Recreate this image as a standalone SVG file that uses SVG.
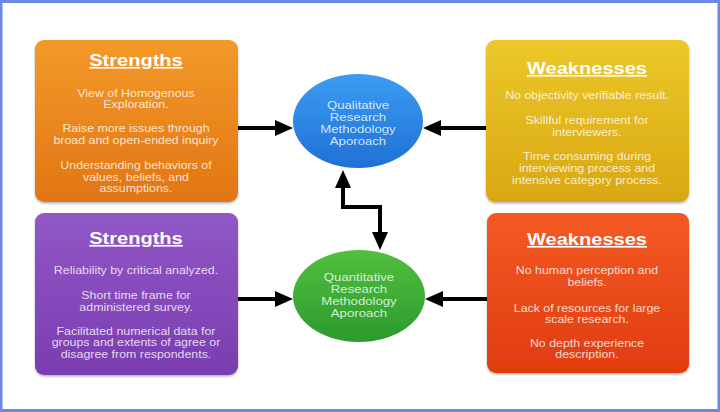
<svg xmlns="http://www.w3.org/2000/svg" width="720" height="412" viewBox="0 0 720 412">
<defs>
<linearGradient id="gOr" x1="0" y1="0" x2="0" y2="1"><stop offset="0" stop-color="#f39a2a"/><stop offset="1" stop-color="#e27514"/></linearGradient>
<linearGradient id="gYe" x1="0" y1="0" x2="0" y2="1"><stop offset="0" stop-color="#ecc82a"/><stop offset="1" stop-color="#d9a712"/></linearGradient>
<linearGradient id="gPu" x1="0" y1="0" x2="0" y2="1"><stop offset="0" stop-color="#9257c6"/><stop offset="1" stop-color="#7a3db0"/></linearGradient>
<linearGradient id="gRe" x1="0" y1="0" x2="0" y2="1"><stop offset="0" stop-color="#f45a24"/><stop offset="1" stop-color="#e03c10"/></linearGradient>
<linearGradient id="gBl" x1="0" y1="0" x2="0" y2="1"><stop offset="0" stop-color="#3c9cf2"/><stop offset="1" stop-color="#1f70d6"/></linearGradient>
<linearGradient id="gGr" x1="0" y1="0" x2="0" y2="1"><stop offset="0" stop-color="#52bf3e"/><stop offset="1" stop-color="#2c9a2e"/></linearGradient>
<filter id="sh" x="-5%" y="-5%" width="110%" height="115%">
<feDropShadow dx="0" dy="1.5" stdDeviation="1.2" flood-color="#000" flood-opacity="0.3"/>
</filter>
<marker id="ah" markerUnits="userSpaceOnUse" markerWidth="18" markerHeight="16" refX="0" refY="8" orient="auto-start-reverse" viewBox="0 0 18 16">
<path d="M0,0 L18,8 L0,16 z" fill="#000"/>
</marker>
</defs>
<style>
.box{stroke:none;filter:url(#sh)}
.ttl{font-family:"Liberation Sans",Arial,sans-serif;font-weight:bold;font-size:17px;fill:#fff;text-anchor:middle;text-decoration:underline}
.bd{font-family:"Liberation Sans",Arial,sans-serif;font-size:10.5px;fill:#fff;fill-opacity:0.8;text-anchor:middle}
.el{font-family:"Liberation Sans",Arial,sans-serif;font-size:11px;fill:#fff;fill-opacity:0.8;text-anchor:middle}
.cn{fill:none;stroke:#000;stroke-width:4}
</style>
<rect x="0" y="0" width="720" height="412" fill="#fff"/>
<rect x="1" y="1.5" width="718" height="409" fill="none" stroke="#6a8ae6" stroke-width="3"/>

<g id="orange-strengths">
<rect class="box" x="35" y="40" width="203" height="162" rx="9" fill="url(#gOr)"/>
<g transform="translate(136 0) scale(1.18 1)">
<text class="ttl" x="0" y="66">Strengths</text>
<text class="bd" x="0" y="97">View of Homogenous</text>
<text class="bd" x="0" y="108">Exploration.</text>
<text class="bd" x="0" y="132">Raise more issues through</text>
<text class="bd" x="0" y="144">broad and open-ended inquiry</text>
<text class="bd" x="0" y="169">Understanding behaviors of</text>
<text class="bd" x="0" y="181">values, beliefs, and</text>
<text class="bd" x="0" y="192">assumptions.</text>
</g>
</g>

<g id="yellow-weaknesses">
<rect class="box" x="486" y="40" width="203" height="162" rx="9" fill="url(#gYe)"/>
<g transform="translate(587 0) scale(1.18 1)">
<text class="ttl" x="0" y="74">Weaknesses</text>
<text class="bd" x="0" y="99">No objectivity verifiable result.</text>
<text class="bd" x="0" y="124">Skillful requirement for</text>
<text class="bd" x="0" y="136">interviewers.</text>
<text class="bd" x="0" y="160">Time consuming during</text>
<text class="bd" x="0" y="172">interviewing process and</text>
<text class="bd" x="0" y="184">intensive category process.</text>
</g>
</g>

<g id="purple-strengths">
<rect class="box" x="35" y="213" width="203" height="162" rx="9" fill="url(#gPu)"/>
<g transform="translate(136 0) scale(1.18 1)">
<text class="ttl" x="0" y="244">Strengths</text>
<text class="bd" x="0" y="274">Reliability by critical analyzed.</text>
<text class="bd" x="0" y="299">Short time frame for</text>
<text class="bd" x="0" y="311">administered survey.</text>
<text class="bd" x="0" y="335">Facilitated numerical data for</text>
<text class="bd" x="0" y="346">groups and extents of agree or</text>
<text class="bd" x="0" y="358">disagree from respondents.</text>
</g>
</g>

<g id="red-weaknesses">
<rect class="box" x="487" y="213" width="202" height="160" rx="9" fill="url(#gRe)"/>
<g transform="translate(587 0) scale(1.18 1)">
<text class="ttl" x="0" y="245">Weaknesses</text>
<text class="bd" x="0" y="274">No human perception and</text>
<text class="bd" x="0" y="286">beliefs.</text>
<text class="bd" x="0" y="312">Lack of resources for large</text>
<text class="bd" x="0" y="323">scale research.</text>
<text class="bd" x="0" y="347">No depth experience</text>
<text class="bd" x="0" y="358">description.</text>
</g>
</g>

<g id="qualitative">
<ellipse cx="358" cy="121" rx="65" ry="47" fill="url(#gBl)"/>
<g transform="translate(358 0) scale(1.2 1)">
<text class="el" x="0" y="109">Qualitative</text>
<text class="el" x="0" y="121">Research</text>
<text class="el" x="0" y="133">Methodology</text>
<text class="el" x="0" y="145">Aporoach</text>
</g>
</g>

<g id="quantitative">
<ellipse cx="359" cy="296" rx="66" ry="46" fill="url(#gGr)"/>
<g transform="translate(359 0) scale(1.2 1)">
<text class="el" x="0" y="281">Quantitative</text>
<text class="el" x="0" y="293">Research</text>
<text class="el" x="0" y="305">Methodology</text>
<text class="el" x="0" y="317">Aporoach</text>
</g>
</g>

<g id="connectors">
<line class="cn" x1="238" y1="128" x2="275" y2="128" marker-end="url(#ah)"/>
<line class="cn" x1="486" y1="128" x2="441" y2="128" marker-end="url(#ah)"/>
<line class="cn" x1="238" y1="299" x2="275" y2="299" marker-end="url(#ah)"/>
<line class="cn" x1="487" y1="299" x2="443" y2="299" marker-end="url(#ah)"/>
<path class="cn" d="M343,188 V207 H380 V232" marker-start="url(#ah)" marker-end="url(#ah)"/>
</g>
</svg>
